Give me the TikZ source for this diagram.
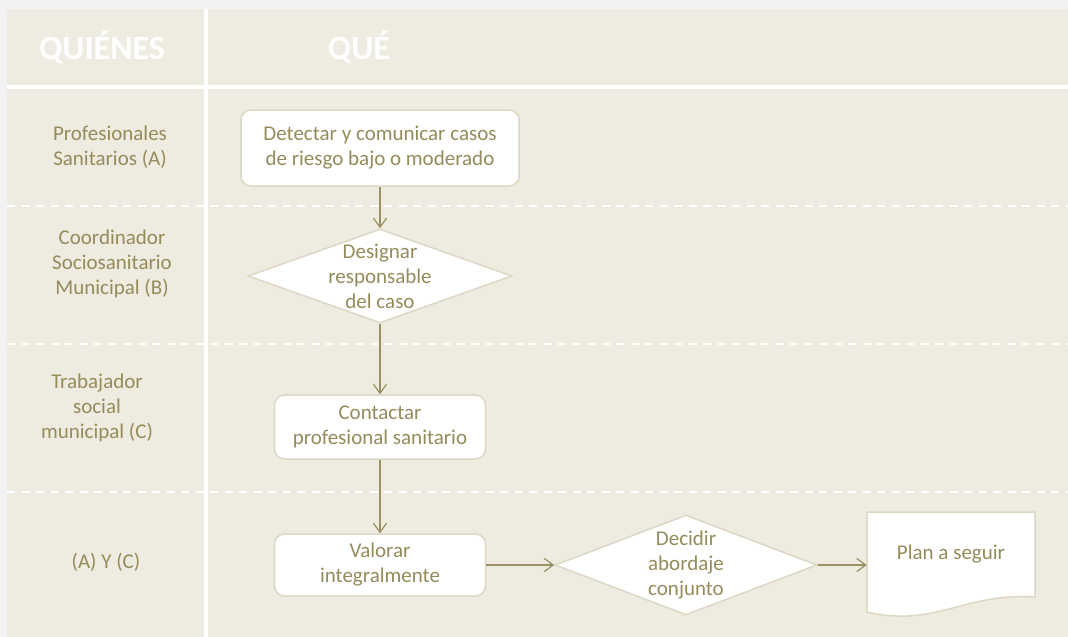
\documentclass[tikz,border=0pt]{standalone}
\usepackage{fontspec}
\setmainfont{Carlito}
\usetikzlibrary{arrows.meta, positioning, shapes.geometric}
\definecolor{fondo}{HTML}{F2F2F2}
\definecolor{panel}{HTML}{EEEBE0}
\definecolor{borde}{HTML}{DDD8C4}
\definecolor{oliva}{HTML}{958B5B}
\definecolor{flecha}{HTML}{9A9064}

\begin{document}
\begin{tikzpicture}[x=1pt, y=-1pt,
  txt/.style={font=\fontsize{21}{25}\selectfont, text=oliva, align=center},
  box/.style={txt, draw=borde, line width=1.5pt, fill=white,
    rounded corners=10pt, inner sep=2pt},
  dia/.style={diamond, draw=borde, line width=1.5pt, fill=white, inner sep=0pt},
  head/.style={font=\fontsize{34}{40}\bfseries\selectfont, text=white},
  lane/.style={white, line width=1.5pt, dash pattern=on 8pt off 6.5pt},
  arr/.style={-{Straight Barb[length=9pt, width=13pt]}, flecha, line width=1.2pt}]
\useasboundingbox (0,0) rectangle (1068,637);
\fill[fondo] (0,0) rectangle (1068,637);
\fill[panel] (7,9) rectangle (1068,637);
% carriles
\foreach \y in {206,344,492}
  \draw[lane] (7,\y) -- (1068,\y);
\draw[white, line width=4pt] (7,87) -- (1068,87);
\draw[white, line width=4pt] (206,9) -- (206,637);
\node[head] (quienes) at (102,47) {QUIÉNES};
\node[head] (que) at (359,47) {QUÉ};
% quienes
\node[txt] (la) at (110,147) {Profesionales\\Sanitarios (A)};
\node[txt] (lb) at (112,264) {Coordinador\\Sociosanitario\\Municipal (B)};
\node[txt] (lc) at (97,408) {Trabajador\\social\\municipal (C)};
\node[txt] (lac) at (106,562) {(A) Y (C)};
% que
\node[box, minimum width=278pt, minimum height=76pt] (b1) at (380,148)
  {Detectar y comunicar casos\\de riesgo bajo o moderado};
\node[dia, minimum width=264pt, minimum height=94pt] (d1) at (380,276) {};
\node[txt] (d1t) at (d1) {Designar\\responsable\\del caso};
\node[box, minimum width=211pt, minimum height=64pt] (b2) at (380,427)
  {Contactar\\profesional sanitario};
\node[box, minimum width=211pt, minimum height=62pt] (b3) at (380,565)
  {Valorar\\integralmente};
\node[dia, minimum width=262pt, minimum height=100pt] (d2) at (686,565) {};
\node[txt] (d2t) at (d2) {Decidir\\abordaje\\conjunto};
\filldraw[draw=borde, fill=white, line width=1.5pt] (867,512) -- (1035,512)
  -- (1035,597) .. controls (965,592) and (935,628) .. (867,612) -- cycle;
\node[txt, minimum width=168pt, minimum height=85pt] (plan) at (951,554) {Plan a seguir};
\draw[arr] (b1) -- (d1);
\draw[arr] (d1) -- (b2);
\draw[arr] (b2) -- (b3);
\draw[arr] (b3) -- (d2);
\draw[arr] (d2.east) -- (d2.east -| plan.west);
\end{tikzpicture}
\end{document}
